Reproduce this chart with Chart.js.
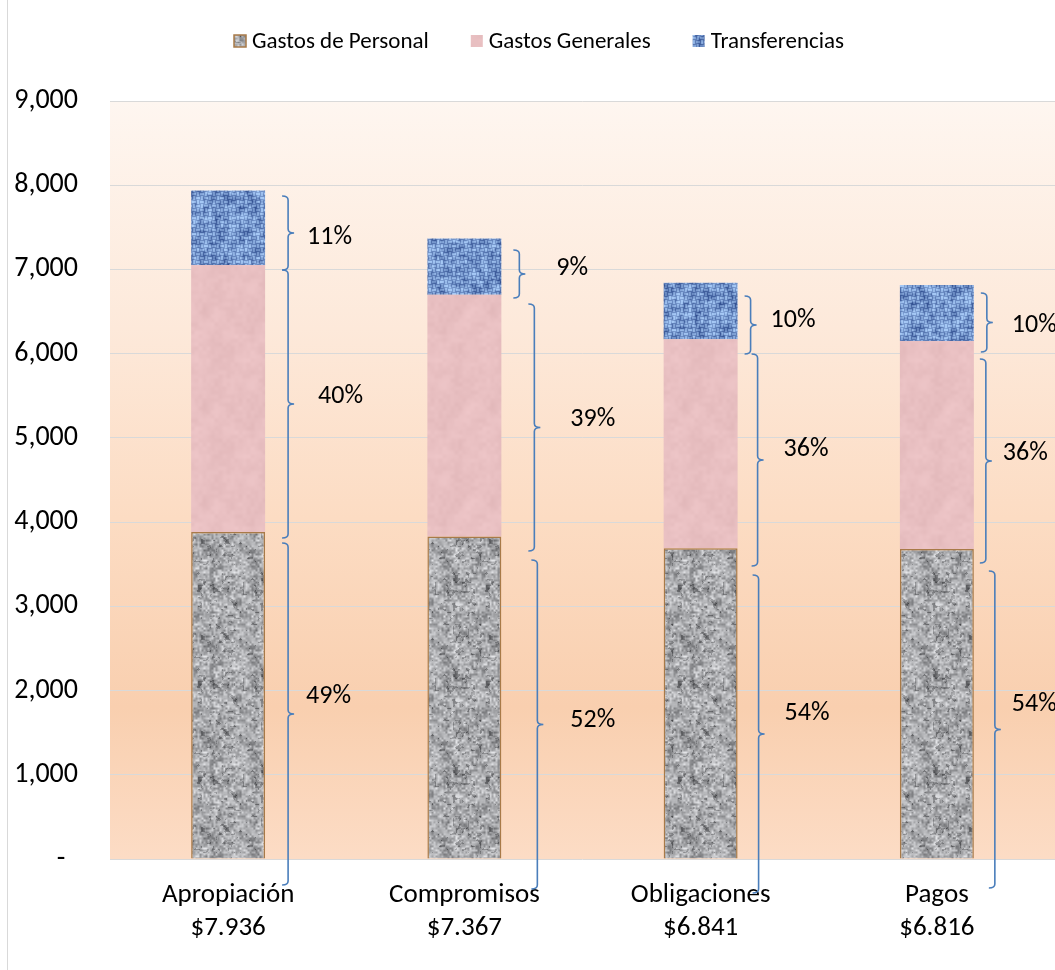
<!DOCTYPE html>
<html><head><meta charset="utf-8">
<script src="https://cdn.jsdelivr.net/npm/chart.js@4/dist/chart.umd.min.js"></script>
<style>html,body{margin:0;padding:0;background:#fff}#wrap{width:1055px;height:970px;position:relative}canvas{display:block}</style>
</head><body><div id="wrap"><canvas id="c" width="1055" height="970"></canvas></div>
<script>
// ---------- DATA ----------
const categories = ['Apropiación', 'Compromisos', 'Obligaciones', 'Pagos'];
const seriesNames = ['Gastos de Personal', 'Gastos Generales', 'Transferencias'];
const gastosPersonal = [3883, 3830, 3690, 3680];
const gastosGenerales = [3170, 2870, 2480, 2470];
const transferencias = [883, 667, 671, 666];
const yTicks = [0, 1000, 2000, 3000, 4000, 5000, 6000, 7000, 8000, 9000];
// brace spans (value units, top -> bottom) for each category
const bracePersonal = [[3752, -309], [3550, -356], [3372, -404], [3420, -344]];
const braceGenerales = [[6994, 3811], [6590, 3657], [5996, 3479], [5937, 3515]];
const braceTransfer = [[7872, 6994], [7231, 6661], [6685, 5996], [6720, 6020]];
// value at which each percent label sits
const labelPersonal = [1924, 1650, 1722, 1840];
const labelGenerales = [5486, 5224, 4868, 4809];
const labelTransfer = [7385, 7017, 6388, 6329];

// ---------- STYLE ----------
const FONT = 'Calibri, Carlito, Lato, sans-serif';
const braceDx = { p: [23, 36, 21, 21], g: [23, 33, 20, 12], t: [23, 18, 13, 13] };
const labelDx = { p: [18, 33, 26, 17], g: [30, 36, 26, 17], t: [19, 37, 20, 25] };

const totals = categories.map((c, i) => gastosPersonal[i] + gastosGenerales[i] + transferencias[i]);
const fmtTotal = v => '$' + Math.floor(v / 1000) + '.' + String(v % 1000).padStart(3, '0');
const xLabels = categories.map((c, i) => [c, fmtTotal(totals[i])]);

// ---------- TEXTURES ----------
function hash(i, j, s) {
  let h = (Math.imul(i, 374761393) + Math.imul(j, 668265263) + Math.imul(s, 1442695041)) | 0;
  h = Math.imul(h ^ (h >>> 13), 1274126177);
  h = h ^ (h >>> 16);
  return ((h >>> 0) % 10000) / 10000;
}
function vnoise(x, y, cell, size, s) {
  const n = size / cell, gx = x / cell, gy = y / cell;
  const i0 = Math.floor(gx), j0 = Math.floor(gy);
  const fx = gx - i0, fy = gy - j0;
  const sx = fx * fx * (3 - 2 * fx), sy = fy * fy * (3 - 2 * fy);
  const a = hash(i0 % n, j0 % n, s), b = hash((i0 + 1) % n, j0 % n, s);
  const c = hash(i0 % n, (j0 + 1) % n, s), d = hash((i0 + 1) % n, (j0 + 1) % n, s);
  return a + (b - a) * sx + (c - a) * sy + (a - b - c + d) * sx * sy;
}
function makePattern(fn, size) {
  const cv = document.createElement('canvas');
  cv.width = size; cv.height = size;
  const cx = cv.getContext('2d');
  const img = cx.createImageData(size, size);
  for (let y = 0; y < size; y++) for (let x = 0; x < size; x++) {
    const [r, g, b] = fn(x, y, size);
    const k = (y * size + x) * 4;
    img.data[k] = r; img.data[k + 1] = g; img.data[k + 2] = b; img.data[k + 3] = 255;
  }
  cx.putImageData(img, 0, 0);
  return document.getElementById('c').getContext('2d').createPattern(cv, 'repeat');
}
const clamp = v => Math.max(0, Math.min(255, Math.round(v)));
const granite = makePattern((x, y, S) => {
  let v = 0.5 * vnoise(x, y, 2, S, 1) + 0.3 * vnoise(x, y, 4, S, 2) + 0.2 * vnoise(x, y, 12, S, 3);
  v = (v - 0.5) * 1.8 + 0.5;
  let g = 168 + 85 * (v - 0.5);
  const sp = vnoise(x, y, 3, S, 7);
  if (sp > 0.8) g -= 45;
  return [clamp(g), clamp(g + 1), clamp(g + 4)];
}, 96);
const pinkTex = makePattern((x, y, S) => {
  const v = 0.6 * vnoise(x, y, 12, S, 11) + 0.4 * vnoise(x, y, 4, S, 12) - 0.5;
  return [clamp(232 + 14 * v), clamp(191 + 16 * v), clamp(193 + 16 * v)];
}, 96);
const blueTex = makePattern((x, y, S) => {
  const cx = Math.floor(x / 4), cy = Math.floor(y / 4);
  const wx = x % 4, wy = y % 4;
  const horizTop = (cx + cy) % 2 === 0;
  const prof = horizTop ? (wy === 1 || wy === 2 ? 1 : 0.35) : (wx === 1 || wx === 2 ? 1 : 0.35);
  const n = vnoise(x, y, 3, S, 21) - 0.5;
  const n2 = vnoise(x, y, 8, S, 22) - 0.5;
  let t = 0.2 + 0.55 * prof + 0.6 * n + 0.35 * n2;
  t = Math.max(0, Math.min(1, t));
  return [clamp(50 + 115 * t), clamp(80 + 120 * t), clamp(145 + 100 * t)];
}, 96);

// ---------- PLUGINS ----------
const bgPlugin = {
  id: 'bg',
  beforeDraw(chart) {
    const { ctx, chartArea: a } = chart;
    ctx.save();
    ctx.fillStyle = '#ffffff';
    ctx.fillRect(0, 0, chart.width, chart.height);
    const gr = ctx.createLinearGradient(0, a.top, 0, a.bottom);
    gr.addColorStop(0, '#fef6f0');
    gr.addColorStop(0.3, '#fde9da');
    gr.addColorStop(0.55, '#fcdcc3');
    gr.addColorStop(0.8, '#f9cfaf');
    gr.addColorStop(1, '#fcdcc5');
    ctx.fillStyle = gr;
    ctx.fillRect(a.left, a.top, a.right - a.left, a.bottom - a.top);
    ctx.strokeStyle = '#d9d9d9';
    ctx.lineWidth = 1;
    ctx.beginPath(); ctx.moveTo(7.5, 0); ctx.lineTo(7.5, chart.height); ctx.stroke();
    ctx.restore();
  }
};

function drawBrace(ctx, x, y1, y2) {
  const h = 6, r = 4, ym = (y1 + y2) / 2;
  ctx.beginPath();
  ctx.moveTo(x - h, y1);
  ctx.quadraticCurveTo(x, y1, x, y1 + r);
  ctx.lineTo(x, ym - r);
  ctx.quadraticCurveTo(x, ym, x + h, ym);
  ctx.quadraticCurveTo(x, ym, x, ym + r);
  ctx.lineTo(x, y2 - r);
  ctx.quadraticCurveTo(x, y2, x - h, y2);
  ctx.stroke();
}

const bracePlugin = {
  id: 'braces',
  afterDraw(chart) {
    const { ctx } = chart;
    const ys = chart.scales.y;
    const groups = [
      { key: 'p', spans: bracePersonal, lab: labelPersonal, vals: gastosPersonal },
      { key: 'g', spans: braceGenerales, lab: labelGenerales, vals: gastosGenerales },
      { key: 't', spans: braceTransfer, lab: labelTransfer, vals: transferencias }
    ];
    const meta = chart.getDatasetMeta(0);
    ctx.save();
    ctx.strokeStyle = '#4a7ebb';
    ctx.lineWidth = 1.6;
    ctx.fillStyle = '#000';
    ctx.font = '26px ' + FONT;
    ctx.textBaseline = 'middle';
    ctx.textAlign = 'left';
    categories.forEach((c, i) => {
      const bar = meta.data[i];
      const right = bar.x + bar.width / 2;
      groups.forEach(g => {
        const bx = right + braceDx[g.key][i];
        drawBrace(ctx, bx, ys.getPixelForValue(g.spans[i][0]), ys.getPixelForValue(g.spans[i][1]));
        const pct = Math.round(g.vals[i] / totals[i] * 100) + '%';
        ctx.fillText(pct, bx + labelDx[g.key][i], ys.getPixelForValue(g.lab[i]));
      });
    });
    ctx.restore();
  }
};

const legendPlugin = {
  id: 'customLegend',
  afterDraw(chart) {
    const { ctx } = chart;
    const fills = [granite, pinkTex, blueTex];
    ctx.save();
    ctx.font = '23px ' + FONT;
    ctx.textBaseline = 'middle';
    const box = 12, gap = 6, spacing = 42;
    const widths = seriesNames.map(n => box + gap + ctx.measureText(n).width);
    const total = widths.reduce((a, b) => a + b, 0) + spacing * (seriesNames.length - 1);
    let x = 539 - total / 2;
    const y = 41;
    seriesNames.forEach((n, i) => {
      ctx.fillStyle = fills[i];
      ctx.fillRect(x, y - box / 2, box, box);
      if (i === 0) { ctx.strokeStyle = '#a87a48'; ctx.lineWidth = 1.5; ctx.strokeRect(x, y - box / 2, box, box); }
      ctx.fillStyle = '#000';
      ctx.fillText(n, x + box + gap, y + 1);
      x += widths[i] + spacing;
    });
    ctx.restore();
  }
};

// ---------- CHART ----------
new Chart(document.getElementById('c'), {
  type: 'bar',
  data: {
    labels: xLabels,
    datasets: [
      { label: seriesNames[0], data: gastosPersonal, backgroundColor: granite, borderColor: '#a87a48', borderWidth: 1.5 },
      { label: seriesNames[1], data: gastosGenerales, backgroundColor: pinkTex, borderWidth: 0 },
      { label: seriesNames[2], data: transferencias, backgroundColor: blueTex, borderWidth: 0 }
    ]
  },
  options: {
    responsive: false,
    animation: false,
    devicePixelRatio: 1,
    layout: { padding: { top: 101, left: 0, right: 0, bottom: 0 } },
    datasets: { bar: { categoryPercentage: 1, barPercentage: 0.313 } },
    plugins: { legend: { display: false }, tooltip: { enabled: false } },
    scales: {
      x: {
        stacked: true,
        grid: { display: false, drawTicks: false },
        border: { display: false },
        ticks: { color: '#000', font: { family: FONT, size: 27, lineHeight: 1.22 }, padding: 20, maxRotation: 0, autoSkip: false },
        afterFit(s) { s.height = 111; }
      },
      y: {
        stacked: true,
        min: 0, max: 9000,
        afterBuildTicks(s) { s.ticks = yTicks.map(v => ({ value: v })); },
        grid: { color: '#d9d9d9', lineWidth: 1, drawTicks: false },
        border: { display: false },
        ticks: {
          color: '#000', font: { family: FONT, size: 28 }, padding: 32,
          callback: v => v === 0 ? '-  ' : v.toLocaleString('en-US')
        },
        afterFit(s) { s.width = 110; }
      }
    }
  },
  plugins: [bgPlugin, bracePlugin, legendPlugin]
});
</script>
</body></html>
